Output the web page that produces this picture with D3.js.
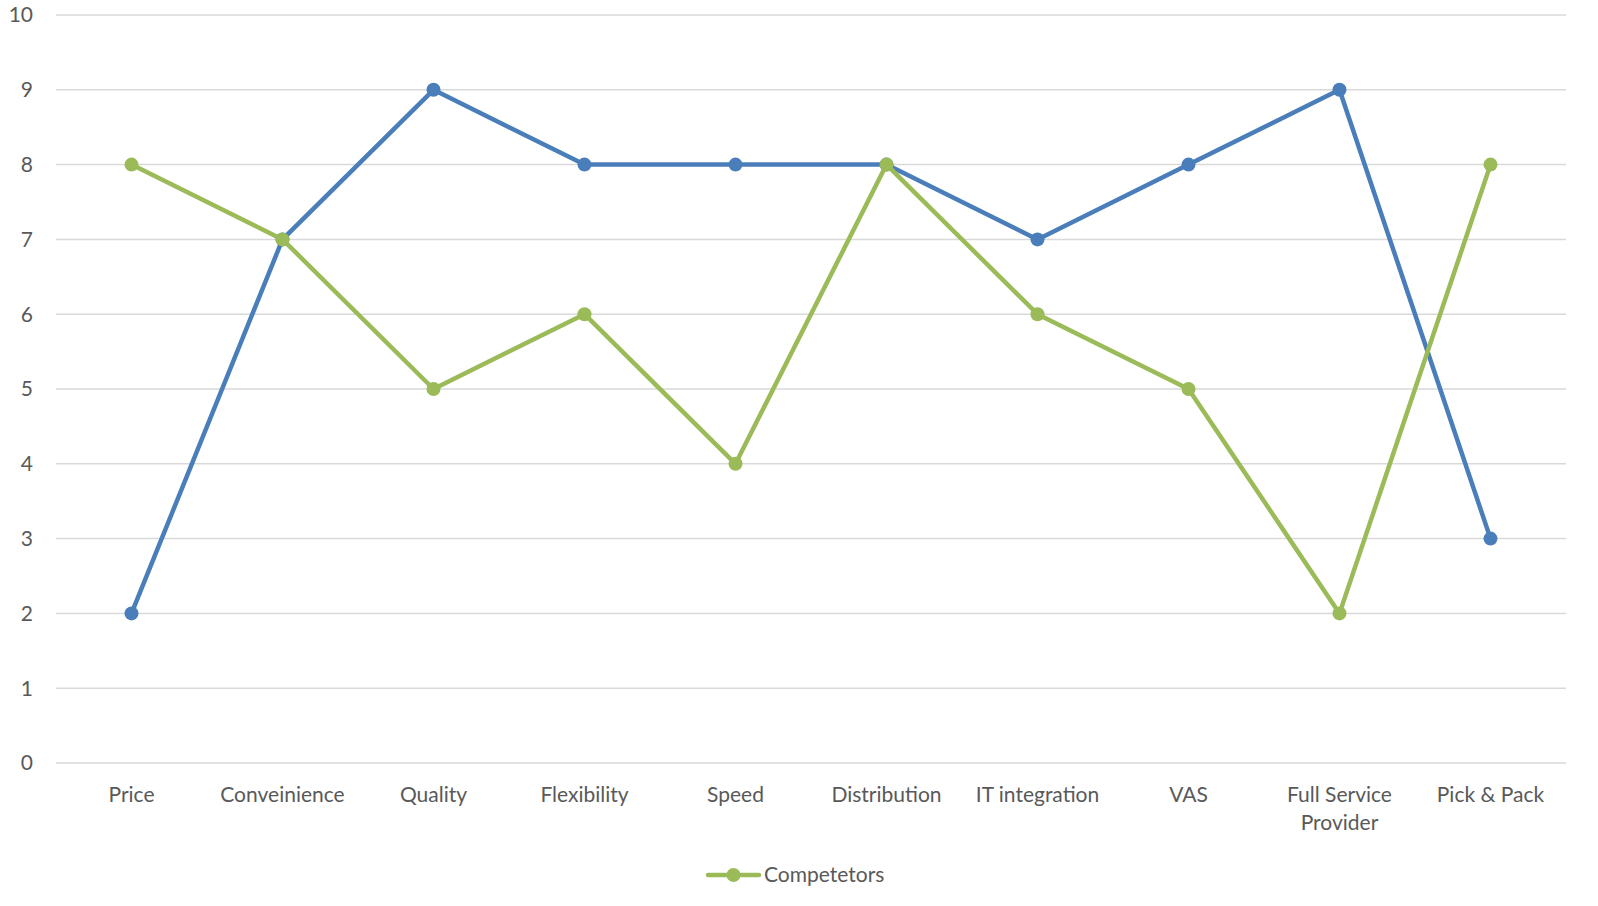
<!DOCTYPE html>
<html>
<head>
<meta charset="utf-8">
<script src="https://cdn.jsdelivr.net/npm/d3@7"></script>
<style>
  html, body { margin: 0; padding: 0; background: #fff; overflow: hidden; }
  svg { display: block; }
  svg text { font-family: Lato, "Open Sans", sans-serif; fill: #595959; }
</style>
</head>
<body>
<svg id="chart" width="1598" height="906"></svg>
<script>
const categories = ['Price','Conveinience','Quality','Flexibility','Speed','Distribution','IT integration','VAS','Full Service Provider','Pick & Pack'];
const ourValues = [2,7,9,8,8,8,7,8,9,3];
const competitorValues = [8,7,5,6,4,8,6,5,2,8];
const yTicks = d3.range(0,11);

const svg = d3.select('#chart');
const m = {t:15, r:32, b:143, l:56};
const W = 1598, H = 906;

const x = d3.scaleBand().domain(categories).range([m.l, W-m.r]);
const y = d3.scaleLinear().domain([0,10]).range([H-m.b, m.t]);

// gridlines
svg.append('g').selectAll('line')
  .data(yTicks).enter().append('line')
  .attr('x1',m.l).attr('x2',W-m.r)
  .attr('y1',d=>y(d)).attr('y2',d=>y(d))
  .style('stroke','#d9d9d9').style('stroke-width',1.5);

// y labels
svg.append('g').selectAll('text')
  .data(yTicks).enter().append('text')
  .attr('x',33).attr('y',d=>y(d)).attr('dy','0.35em')
  .attr('text-anchor','end')
  .style('font-size','21px')
  .text(d=>d);

// x labels (wrap long ones)
const xl = svg.append('g').selectAll('text')
  .data(categories).enter().append('text')
  .attr('x',d=>x(d)+x.bandwidth()/2)
  .attr('y',H-m.b+39)
  .attr('text-anchor','middle')
  .style('font-size','21px');
xl.each(function(d){
  const t = d3.select(this);
  const lines = d==='Full Service Provider' ? ['Full Service','Provider'] : [d];
  lines.forEach((s,i)=>t.append('tspan')
    .attr('x',x(d)+x.bandwidth()/2).attr('dy',i?'1.35em':0).text(s));
});

const line = d3.line().x((d,i)=>x(categories[i])+x.bandwidth()/2).y(d=>y(d));

function drawSeries(vals,color){
  svg.append('path').datum(vals)
    .attr('d',line).attr('fill','none')
    .style('stroke',color).style('stroke-width',4.5)
    .style('stroke-linejoin','round').style('stroke-linecap','round');
  svg.append('g').selectAll('circle')
    .data(vals).enter().append('circle')
    .attr('cx',(d,i)=>x(categories[i])+x.bandwidth()/2)
    .attr('cy',d=>y(d)).attr('r',7)
    .style('fill',color);
}
drawSeries(ourValues,'#4a7ebb');
drawSeries(competitorValues,'#9bbb59');

// legend
const lg = svg.append('g').attr('transform','translate(0,875)');
lg.append('line').attr('x1',708).attr('x2',759).attr('y1',0).attr('y2',0)
  .style('stroke','#9bbb59').style('stroke-width',4.5).style('stroke-linecap','round');
lg.append('circle').attr('cx',733.5).attr('cy',0).attr('r',7).style('fill','#9bbb59');
lg.append('text').attr('x',764).attr('y',0).attr('dy','0.35em')
  .style('font-size','21px').text('Competetors');
</script>
</body>
</html>
